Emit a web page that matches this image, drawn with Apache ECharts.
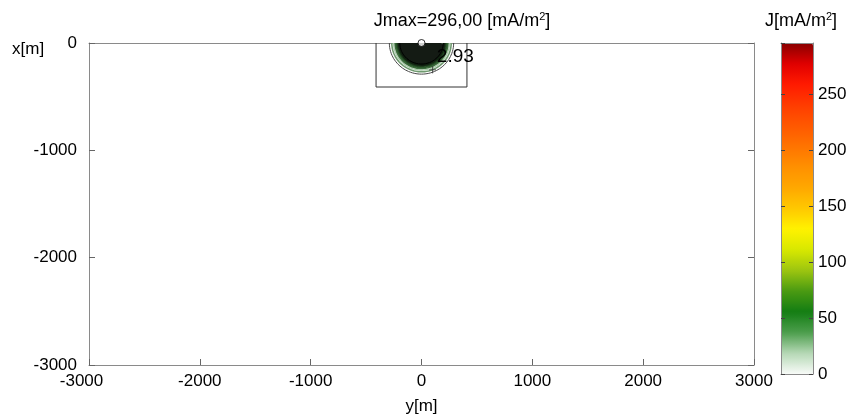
<!DOCTYPE html>
<html>
<head>
<meta charset="utf-8">
<title>Current density map</title>
<script src="https://cdn.jsdelivr.net/npm/echarts@6/dist/echarts.min.js"></script>
<style>
  html, body { margin: 0; padding: 0; background: #ffffff; }
  #chart { width: 850px; height: 420px; }
</style>
</head>
<body>
<div id="chart"></div>
<script>
// Horizontal coordinate y[m] and vertical coordinate x[m]
const yAxisTicks = [-3000, -2000, -1000, 0, 1000, 2000, 3000];
const xAxisTicks = [-3000, -2000, -1000, 0];

// Peak current density [mA/m^2] and colour-bar ticks
const jMax = 296.0;
const colorbarTicks = [0, 50, 100, 150, 200, 250];

// Contour levels [mA/m^2] and their radii around the source [m]
const contourLevels = [2.93, 5, 8, 12, 18, 27, 40];
const contourRadii  = [290, 268, 252, 238, 226, 214, 204];
const coreRadius = 196;          // saturated core around the electrode [m]

// Electrode position (y, x) [m] and the survey box corners (y, x) [m]
const sourcePoint = [0, 0];
const surveyBox = [[-410, 0], [-410, -410], [410, -410], [410, 0]];

// Colour scale for J (0 .. jMax)
const jColors = [
  '#f8fbf8', '#b5d8b5', '#4d9e4d', '#137d13', '#4a9a12', '#9cc510',
  '#d8e800', '#fff200', '#ffc800', '#ffa800', '#ff9000', '#ff7400',
  '#ff5800', '#ff3c00', '#ff1a00', '#e00000', '#880000'
];

// Styling of the contour rings, outermost first
const ringLine = ['#4a4a4a', '#6f9a6f', '#a8c8a8', '#3f6f3f', '#2c5a2c', '#1d3d1d', '#0f1f0f'];
const ringWidth = [1, 1.6, 1.2, 1.6, 2, 2, 2];
const ringFill = ['rgba(255,255,255,0)', 'rgba(235,245,235,0.6)', 'rgba(225,240,225,0.6)',
                  'rgba(160,195,160,0.5)', 'rgba(110,150,110,0.6)', 'rgba(60,90,60,0.7)', 'rgba(30,50,30,0.8)'];

const FONT = 'Liberation Sans, Arial, Helvetica, sans-serif';

// Lower half of a circle of radius r (y horizontal, x vertical, x <= 0)
function halfCircle(r) {
  const pts = [];
  for (let d = 180; d <= 360; d += 2) {
    const t = d * Math.PI / 180;
    pts.push([r * Math.cos(t), r * Math.sin(t)]);
  }
  return pts;
}

const fmtComma = v => v.toFixed(2).replace('.', ',');
const plain = v => String(v);

const series = [];

// survey box
series.push({
  type: 'line', xAxisIndex: 0, yAxisIndex: 0, data: surveyBox,
  showSymbol: false, silent: true, clip: true,
  lineStyle: { color: '#333333', width: 1 }, z: 3
});

// contour rings, outer to inner
contourLevels.forEach((lev, i) => {
  series.push({
    type: 'line', xAxisIndex: 0, yAxisIndex: 0, name: String(lev),
    data: halfCircle(contourRadii[i]),
    showSymbol: false, silent: true, clip: true, smooth: false,
    lineStyle: { color: ringLine[i], width: ringWidth[i] },
    areaStyle: { color: ringFill[i], origin: 'end' },
    z: 4 + i
  });
});

// saturated core
series.push({
  type: 'line', xAxisIndex: 0, yAxisIndex: 0,
  data: halfCircle(coreRadius),
  showSymbol: false, silent: true, clip: true,
  lineStyle: { color: '#000000', width: 1 },
  areaStyle: { color: '#000000', origin: 'end' },
  z: 20
});

// electrode marker
series.push({
  type: 'scatter', xAxisIndex: 0, yAxisIndex: 0,
  data: [sourcePoint], symbol: 'circle', symbolSize: 7, silent: true, clip: false,
  itemStyle: { color: '#ffffff', borderColor: '#000000', borderWidth: 1 },
  z: 30
});

// label of the outermost contour
series.push({
  type: 'scatter', xAxisIndex: 0, yAxisIndex: 0,
  data: [[305, -128, contourLevels[0]]], symbolSize: 1, silent: true,
  itemStyle: { opacity: 0 },
  label: {
    show: true, position: 'inside',
    formatter: p => p.value[2].toFixed(2),
    fontFamily: FONT, fontSize: 19, color: '#000000', textBorderWidth: 0, opacity: 1
  },
  z: 31
});

// small contour tick mark
series.push({
  type: 'scatter', xAxisIndex: 0, yAxisIndex: 0,
  data: [[100, -250]], symbol: 'path://M0,5L10,5M5,0L5,10', symbolSize: 7, silent: true,
  itemStyle: { color: 'none', borderColor: '#333333', borderWidth: 1 },
  z: 31
});

// placeholder series bound to the colour scale
series.push({
  type: 'scatter', xAxisIndex: 2, yAxisIndex: 2, data: [], silent: true
});

const axisGray = '#8a8a8a';
const labelStyle = { fontFamily: FONT, fontSize: 17, color: '#000000', formatter: plain };
const frameLine = { show: true, onZero: false, lineStyle: { color: axisGray, width: 1 } };
const supRich = {
  a: { fontFamily: FONT, fontSize: 18, fontWeight: 'normal', color: '#000000' },
  s: { fontFamily: FONT, fontSize: 11, fontWeight: 'normal', color: '#000000', verticalAlign: 'top', padding: [0, 0, 9, 0] }
};

const option = {
  animation: false,
  backgroundColor: '#ffffff',
  title: [
    {
      text: '{a|Jmax=' + fmtComma(jMax) + ' [mA/m}{s|2}{a|]}',
      left: 457, top: 6, textAlign: 'center',
      textStyle: { fontWeight: 'normal', rich: supRich }
    },
    {
      text: '{a|J[mA/m}{s|2}{a|]}',
      left: 796, top: 6, textAlign: 'center',
      textStyle: { fontWeight: 'normal', rich: supRich }
    }
  ],
  graphic: [
    { type: 'text', left: 12, top: 41, style: { text: 'x[m]', font: '17px ' + FONT, fill: '#000000' } }
  ],
  grid: [
    { left: 89, right: 96, top: 43, height: 330, containLabel: false },
    { left: 781, top: 43, width: 32, height: 331, containLabel: false }
  ],
  visualMap: {
    type: 'continuous', min: 0, max: jMax, seriesIndex: [series.length - 1],
    left: 781, top: 43, itemWidth: 32, itemHeight: 331, padding: 0,
    calculable: false, hoverLink: false, text: null, showLabel: false,
    inRange: { color: jColors }
  },
  xAxis: [
    {
      gridIndex: 0, type: 'value', min: yAxisTicks[0], max: yAxisTicks[yAxisTicks.length - 1],
      interval: 1000, position: 'bottom',
      name: 'y[m]', nameLocation: 'middle', nameGap: 33,
      nameTextStyle: { fontFamily: FONT, fontSize: 17, color: '#000000' },
      axisLine: frameLine,
      axisTick: { show: true, inside: true, length: 6, lineStyle: { color: '#666666' } },
      axisLabel: {
        margin: 8, fontFamily: FONT, fontSize: 17, color: '#000000',
        // the corner label is nudged left, clear of the vertical axis labels
        formatter: v => v === yAxisTicks[0] ? '{c|' + v + '}' : String(v),
        rich: { c: { fontFamily: FONT, fontSize: 17, color: '#000000', padding: [0, 15, 0, 0] } }
      },
      splitLine: { show: false }
    },
    {
      gridIndex: 0, type: 'value', min: -3000, max: 3000, interval: 1000, position: 'top',
      axisLine: frameLine,
      axisTick: { show: false }, axisLabel: { show: false }, splitLine: { show: false }
    },
    {
      gridIndex: 1, type: 'value', min: 0, max: 1, position: 'bottom', z: 10,
      axisLine: frameLine,
      axisTick: { show: false }, axisLabel: { show: false }, splitLine: { show: false }
    },
    {
      gridIndex: 1, type: 'value', min: 0, max: 1, position: 'top', z: 10,
      axisLine: frameLine,
      axisTick: { show: false }, axisLabel: { show: false }, splitLine: { show: false }
    }
  ],
  yAxis: [
    {
      gridIndex: 0, type: 'value', min: xAxisTicks[0], max: xAxisTicks[xAxisTicks.length - 1],
      interval: 1000, position: 'left',
      axisLine: frameLine,
      axisTick: { show: true, inside: true, length: 6, lineStyle: { color: '#666666' } },
      axisLabel: Object.assign({ margin: 12 }, labelStyle),
      splitLine: { show: false }
    },
    {
      gridIndex: 0, type: 'value', min: -3000, max: 0, interval: 1000, position: 'right',
      axisLine: frameLine,
      axisTick: { show: true, inside: true, length: 6, lineStyle: { color: '#666666' } },
      axisLabel: { show: false }, splitLine: { show: false }
    },
    {
      gridIndex: 1, type: 'value', min: colorbarTicks[0], max: jMax, interval: 50, position: 'right', z: 10,
      axisLine: frameLine,
      axisTick: { show: true, inside: true, length: 4, lineStyle: { color: '#444444' } },
      axisLabel: Object.assign({ margin: 5, showMaxLabel: false }, labelStyle),
      splitLine: { show: false }
    },
    {
      gridIndex: 1, type: 'value', min: 0, max: jMax, interval: 50, position: 'left', z: 10,
      axisLine: frameLine,
      axisTick: { show: true, inside: true, length: 4, lineStyle: { color: '#444444' } },
      axisLabel: { show: false }, splitLine: { show: false }
    }
  ],
  series: series
};

const chart = echarts.init(document.getElementById('chart'), null, { renderer: 'canvas' });
chart.setOption(option);
</script>
</body>
</html>
